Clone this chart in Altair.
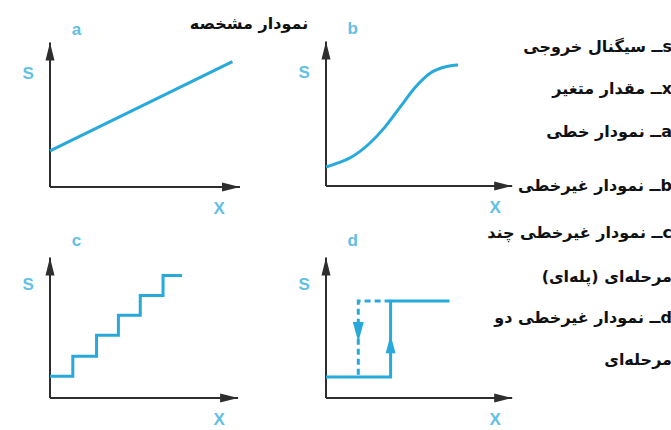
import altair as alt
import pandas as pd

W, H = 671, 430
UNIT = 19  # page pixels per data unit inside a panel

# axis corner of each panel on the page (pixels from the top-left) and axis lengths (x, S)
ORIGINS = {"a": (50, 187), "b": (326, 186), "c": (50, 398), "d": (326, 398)}
AXIS_LEN = {"a": (10.0, 7.6), "b": (9.8, 7.6), "c": (9.9, 7.4), "d": (9.8, 7.4)}

# ---- characteristic curves, in panel units (x, S) ----
line_a_x = [0.0, 9.6]
line_a_s = [1.9, 6.6]

curve_b_x = [0.0, 0.6, 1.3, 2.3, 3.1, 3.9, 4.7, 5.5, 6.3, 6.95]
curve_b_s = [1.0, 1.2, 1.5, 2.25, 3.1, 4.15, 5.2, 5.95, 6.28, 6.37]

stairs_c_x = [0.0, 1.2, 2.45, 3.6, 4.75, 5.95, 6.95]
stairs_c_s = [1.15, 2.2, 3.3, 4.35, 5.4, 6.45, 6.45]

hyst_rise_x = [0.0, 3.4, 3.4, 6.5]
hyst_rise_s = [1.1, 1.1, 5.1, 5.1]
hyst_fall_x = [3.4, 1.7, 1.7]
hyst_fall_s = [5.1, 5.1, 1.1]

# direction markers on the two-step branches
fall_marker = (1.7, 2.95)
rise_marker = (3.4, 3.3)

panels = ["a", "b", "c", "d"]
title_text = "نمودار مشخصه"
legend_lines = [
    "sــ سیگنال خروجی",
    "xــ مقدار متغیر",
    "aــ نمودار خطی",
    "bــ نمودار غیرخطی",
    "cــ نمودار غیرخطی چند",
    "مرحله‌ای (پله‌ای)",
    "dــ نمودار غیرخطی دو",
    "مرحله‌ای",
]
legend_y = [47, 89, 132, 186, 233, 277, 318, 360]

BLUE = "#27a9dc"
LABEL_BLUE = "#62bfe6"
AXIS = "#2e2e2e"


def gx(panel, x):
    return ORIGINS[panel][0] + x * UNIT


def gy(panel, s):
    return H - ORIGINS[panel][1] + s * UNIT


def path_frame(panel, xs, ss):
    return pd.DataFrame({
        "panel": panel,
        "i": list(range(len(xs))),
        "gx": [gx(panel, x) for x in xs],
        "gy": [gy(panel, s) for s in ss],
    })


X = lambda f="gx": alt.X(f"{f}:Q", scale=alt.Scale(domain=[0, W], nice=False, zero=False), axis=None)
Y = lambda f="gy": alt.Y(f"{f}:Q", scale=alt.Scale(domain=[0, H], nice=False, zero=False), axis=None)

# ---- axes with arrow heads ----
axis_rows = []
tip_up, tip_right = [], []
for p in panels:
    lx, ls = AXIS_LEN[p]
    axis_rows.append({"gx": gx(p, 0), "gy": gy(p, 0), "gx2": gx(p, 0), "gy2": gy(p, ls)})
    axis_rows.append({"gx": gx(p, 0), "gy": gy(p, 0), "gx2": gx(p, lx), "gy2": gy(p, 0)})
    tip_up.append({"gx": gx(p, 0), "gy": gy(p, ls)})
    tip_right.append({"gx": gx(p, lx), "gy": gy(p, 0)})

axes = alt.Chart(pd.DataFrame(axis_rows)).mark_rule(color=AXIS, strokeWidth=2).encode(
    x=X(), y=Y(), x2=alt.X2("gx2:Q"), y2=alt.Y2("gy2:Q"))

heads_up = alt.Chart(pd.DataFrame(tip_up)).mark_point(
    shape="M0,0L-0.5,2L0.5,2Z", size=324, filled=True, color=AXIS, opacity=1, strokeWidth=0
).encode(x=X(), y=Y())
heads_right = alt.Chart(pd.DataFrame(tip_right)).mark_point(
    shape="M0,0L-2,-0.5L-2,0.5Z", size=324, filled=True, color=AXIS, opacity=1, strokeWidth=0
).encode(x=X(), y=Y())


def curve(df, interp="linear", dash=None):
    kw = dict(color=BLUE, strokeWidth=3, interpolate=interp)
    if dash:
        kw["strokeDash"] = dash
    return alt.Chart(df).mark_line(**kw).encode(x=X(), y=Y(), order="i:Q")


line_a = curve(path_frame("a", line_a_x, line_a_s))
line_b = curve(path_frame("b", curve_b_x, curve_b_s), "monotone")
line_c = curve(path_frame("c", stairs_c_x, stairs_c_s), "step-after")
line_d = curve(path_frame("d", hyst_rise_x, hyst_rise_s))
line_d_dash = curve(path_frame("d", hyst_fall_x, hyst_fall_s), dash=[6, 4])

marker_down = alt.Chart(pd.DataFrame([{"gx": gx("d", fall_marker[0]), "gy": gy("d", fall_marker[1])}])).mark_point(
    shape="M0,0L-0.55,-2L0.55,-2Z", size=400, filled=True, color=BLUE, opacity=1, strokeWidth=0
).encode(x=X(), y=Y())
marker_up = alt.Chart(pd.DataFrame([{"gx": gx("d", rise_marker[0]), "gy": gy("d", rise_marker[1])}])).mark_point(
    shape="M0,0L-0.55,2L0.55,2Z", size=324, filled=True, color=BLUE, opacity=1, strokeWidth=0
).encode(x=X(), y=Y())

# ---- panel letters and axis names ----
label_rows = []
for p in panels:
    label_rows.append({"gx": gx(p, 1.4), "gy": gy(p, 8.25), "t": p})
    label_rows.append({"gx": gx(p, -1.15), "gy": gy(p, 5.95), "t": "S"})
    label_rows.append({"gx": gx(p, 8.9), "gy": gy(p, -1.15), "t": "X"})
labels = alt.Chart(pd.DataFrame(label_rows)).mark_text(
    font="Liberation Sans", fontWeight="bold", fontSize=17, color=LABEL_BLUE, baseline="middle"
).encode(x=X(), y=Y(), text="t:N")

# ---- heading and Persian key ----
title = alt.Chart(pd.DataFrame([{"gx": 249, "gy": H - 24, "t": title_text}])).mark_text(
    font="DejaVu Sans", fontWeight="bold", fontSize=16, color="#111111", baseline="middle"
).encode(x=X(), y=Y(), text="t:N")

key_df = pd.DataFrame({
    "gx": [672] * len(legend_lines),
    "gy": [H - v for v in legend_y],
    "t": ["\u202b" + s + "\u202c" for s in legend_lines],
})
key = alt.Chart(key_df).mark_text(
    font="DejaVu Sans", fontWeight="bold", fontSize=16, color="#111111", align="right", baseline="middle"
).encode(x=X(), y=Y(), text="t:N")

chart = alt.layer(
    axes, heads_up, heads_right,
    line_a, line_b, line_c, line_d_dash, line_d,
    marker_down, marker_up,
    labels, title, key,
).properties(
    width=W, height=H, padding=0, background="white",
    autosize=alt.AutoSizeParams(type="none"),
).configure_view(strokeWidth=0)

chart.save("out.html", embed_options={"renderer": "svg", "actions": False})
